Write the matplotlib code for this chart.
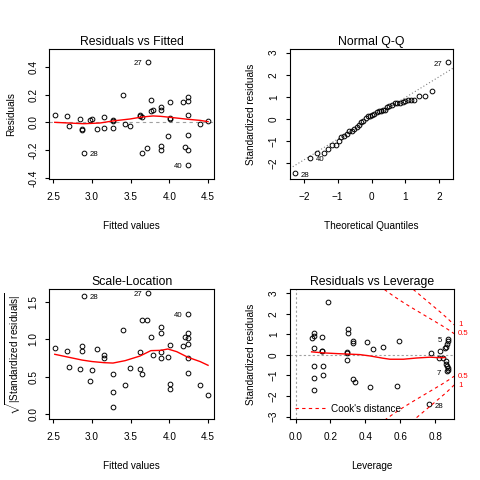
import numpy as np
import matplotlib
matplotlib.use("Agg")
import matplotlib.pyplot as plt
import matplotlib.transforms as mtrans

plt.rcParams['font.family'] = ['Liberation Sans', 'DejaVu Sans']
plt.rcParams['mathtext.fontset'] = 'custom'
plt.rcParams['mathtext.rm'] = 'Liberation Sans'

# Residuals vs Fitted
rvf_fitted = [2.517, 2.677, 2.70, 2.845, 2.87, 2.87, 2.897, 2.974, 3.0, 3.065, 3.155, 3.155,
              3.27, 3.27, 3.27, 3.40, 3.427, 3.49, 3.616, 3.616, 3.64, 3.64, 3.71, 3.72,
              3.76, 3.76, 3.79, 3.89, 3.89, 3.89, 3.89, 3.98, 4.01, 4.01, 4.01, 4.177,
              4.20, 4.24, 4.24, 4.24, 4.24, 4.24, 4.24, 4.397, 4.50]
rvf_resid = [0.055, 0.046, -0.024, 0.024, -0.046, -0.052, -0.218, 0.017, 0.024, -0.046, 0.041, -0.038,
             0.019, 0.010, -0.038, 0.199, -0.010, -0.024, 0.055, 0.048, 0.041, -0.218, -0.182, 0.436,
             0.160, 0.084, 0.091, 0.113, 0.091, -0.172, -0.196, -0.096, 0.148, 0.034, 0.024, 0.148,
             -0.175, 0.184, 0.156, 0.055, -0.089, -0.196, -0.304, -0.010, 0.012]
rvf_smooth_x = [2.517, 2.888, 3.10, 3.27, 3.49, 3.64, 3.79, 3.89, 4.01, 4.24, 4.397, 4.50]
rvf_smooth_y = [0.0, -0.010, -0.005, 0.010, 0.024, 0.038, 0.046, 0.043, 0.036, 0.022, 0.014, 0.005]
rvf_ids = [("27", 3.72, 0.436, "left"), ("28", 2.897, -0.218, "right"), ("40", 4.24, -0.304, "left")]

# Normal Q-Q
qq_theor = [-2.27, -1.82, -1.60, -1.41, -1.28, -1.16, -1.05, -0.96, -0.89, -0.82, -0.72, -0.67,
            -0.58, -0.52, -0.44, -0.38, -0.31, -0.25, -0.17, -0.10, -0.05, 0.01, 0.07, 0.15,
            0.22, 0.29, 0.34, 0.40, 0.46, 0.52, 0.60, 0.68, 0.75, 0.84, 0.92, 0.99,
            1.07, 1.16, 1.25, 1.40, 1.57, 1.80, 2.25]
qq_std = [-2.46, -1.74, -1.52, -1.52, -1.34, -1.16, -1.16, -1.00, -0.83, -0.77, -0.69, -0.53,
          -0.53, -0.44, -0.38, -0.29, -0.15, -0.11, 0.03, 0.14, 0.14, 0.17, 0.23, 0.32,
          0.38, 0.38, 0.41, 0.41, 0.53, 0.59, 0.65, 0.71, 0.71, 0.74, 0.77, 0.83,
          0.84, 0.87, 0.87, 1.05, 1.05, 1.28, 2.57]
qq_line_intercept = 0.03
qq_line_slope = 0.94
qq_ids = [("27", 2.25, 2.57, "left"), ("28", -2.27, -2.46, "right"), ("40", -1.82, -1.74, "right")]

# Scale-Location
sl_fitted = [2.517, 2.677, 2.70, 2.845, 2.87, 2.87, 2.897, 2.974, 3.0, 3.065, 3.155, 3.155,
             3.27, 3.27, 3.27, 3.40, 3.427, 3.49, 3.616, 3.616, 3.64, 3.64, 3.71, 3.72,
             3.76, 3.79, 3.89, 3.89, 3.89, 3.89, 3.98, 4.01, 4.01, 4.01, 4.177, 4.20,
             4.24, 4.24, 4.24, 4.24, 4.24, 4.24, 4.397, 4.50]
sl_value = [0.886, 0.846, 0.632, 0.605, 0.903, 0.846, 1.58, 0.445, 0.592, 0.872, 0.792, 0.752,
            0.538, 0.298, 0.098, 1.126, 0.392, 0.619, 0.832, 0.605, 1.26, 0.538, 1.26, 1.62,
            1.03, 0.792, 1.166, 1.086, 0.832, 0.752, 0.765, 0.926, 0.405, 0.338, 0.912, 1.03,
            1.34, 1.086, 1.02, 0.939, 0.752, 0.552, 0.392, 0.258]
sl_smooth_x = [2.517, 2.70, 2.87, 3.0, 3.155, 3.27, 3.427, 3.62, 3.76, 3.89, 3.98, 4.095, 4.24, 4.397, 4.50]
sl_smooth_y = [0.797, 0.757, 0.72, 0.70, 0.685, 0.68, 0.712, 0.774, 0.846, 0.85, 0.868, 0.832, 0.757, 0.70, 0.65]
sl_ids = [("28", 2.897, 1.58, "right"), ("27", 3.72, 1.62, "left"), ("40", 4.24, 1.34, "left")]

# Residuals vs Leverage
lev_h = [0.092, 0.103, 0.103, 0.103, 0.103, 0.103, 0.103, 0.149, 0.149, 0.149, 0.160, 0.160,
         0.183, 0.294, 0.294, 0.294, 0.300, 0.300, 0.328, 0.328, 0.328, 0.340, 0.407, 0.424,
         0.443, 0.498, 0.578, 0.592, 0.762, 0.773, 0.825, 0.819, 0.842, 0.853, 0.859, 0.865,
         0.871, 0.871, 0.859, 0.859, 0.865, 0.871, 0.871, 0.865]
lev_std = [0.84, 0.92, 1.05, 0.34, -0.52, -1.10, -1.73, 0.89, 0.21, 0.18, -0.52, -1.00,
           2.59, 0.13, 0.10, -0.23, 1.28, 1.09, 0.68, 0.60, -1.15, -1.30, 0.63, -1.54,
           0.31, 0.40, -1.49, 0.68, -2.40, 0.11, 0.19, -0.13, -0.13, 0.33, 0.39, 0.55,
           0.68, 0.78, -0.32, -0.42, -0.55, -0.65, -0.74, -0.78]
lev_smooth_x = [0.092, 0.158, 0.235, 0.368, 0.426, 0.50, 0.54, 0.617, 0.693, 0.77, 0.81, 0.855]
lev_smooth_y = [0.15, 0.10, 0.065, 0.016, -0.05, -0.16, -0.21, -0.21, -0.15, -0.11, -0.13, -0.13]
lev_ids = [("5", 0.871, 0.78, "left"), ("7", 0.865, -0.78, "left"), ("28", 0.762, -2.40, "right")]
n_params = 21
cook_levels = [0.5, 1.0]

TICK = 7.2
LAB = 7.2
ID = 5.6

fig = plt.figure(figsize=(4.8, 4.8), dpi=100)
ax1 = fig.add_axes([0.103, 0.628, 0.343, 0.269])
ax2 = fig.add_axes([0.604, 0.628, 0.340, 0.269])
ax3 = fig.add_axes([0.103, 0.128, 0.343, 0.269])
ax4 = fig.add_axes([0.604, 0.128, 0.342, 0.269])


def style(ax, title, xlabel, ylabel, ypad=9):
    ax.set_title(title, fontsize=8.8, pad=3)
    ax.set_xlabel(xlabel, fontsize=LAB, labelpad=13)
    ax.set_ylabel(ylabel, fontsize=LAB, labelpad=ypad)
    ax.tick_params(direction='out', length=3, width=0.8, labelsize=TICK, pad=7)
    ax.tick_params(axis='y', pad=5)
    for lab in ax.get_yticklabels():
        lab.set_rotation(90)
        lab.set_va('center')
    for s in ax.spines.values():
        s.set_linewidth(0.8)


def pts(ax, x, y):
    ax.plot(x, y, 'o', ms=3.4, mfc='none', mec='black', mew=0.7, ls='none')


def ids(ax, items):
    for txt, x, y, side in items:
        off = -4 if side == "left" else 4
        ax.annotate(txt, (x, y), xytext=(off, -1.5), textcoords='offset points',
                    ha='right' if side == "left" else 'left', va='center', fontsize=ID)


# panel 1
ax1.axhline(0, color='#a0a0a0', ls=(0, (3, 3)), lw=0.8)
pts(ax1, rvf_fitted, rvf_resid)
ax1.plot(rvf_smooth_x, rvf_smooth_y, color='red', lw=1)
ids(ax1, rvf_ids)
ax1.set_xlim(2.448, 4.578)
ax1.set_ylim(-0.405, 0.525)
ax1.set_xticks([2.5, 3.0, 3.5, 4.0, 4.5])
ax1.set_yticks([-0.4, -0.2, 0.0, 0.2, 0.4])
ax1.set_yticklabels(["-0.4", "-0.2", "0.0", "0.2", "0.4"])
style(ax1, "Residuals vs Fitted", "Fitted values", "Residuals")

# panel 2
ax2.axline((0, qq_line_intercept), slope=qq_line_slope, color='gray', ls=(0, (1, 2)), lw=0.8)
pts(ax2, qq_theor, qq_std)
ids(ax2, qq_ids)
ax2.set_xlim(-2.41, 2.41)
ax2.set_ylim(-2.69, 3.14)
ax2.set_xticks([-2, -1, 0, 1, 2])
ax2.set_yticks([-2, -1, 0, 1, 2, 3])
style(ax2, "Normal Q-Q", "Theoretical Quantiles", "Standardized residuals")

# panel 3
pts(ax3, sl_fitted, sl_value)
ax3.plot(sl_smooth_x, sl_smooth_y, color='red', lw=1)
ids(ax3, sl_ids)
ax3.set_xlim(2.448, 4.578)
ax3.set_ylim(-0.062, 1.664)
ax3.set_xticks([2.5, 3.0, 3.5, 4.0, 4.5])
ax3.set_yticks([0.0, 0.5, 1.0, 1.5])
style(ax3, "Scale-Location", "Fitted values",
      r'$\sqrt{|\mathrm{Standardized\ residuals}|}$', ypad=4)

# panel 4
xl = (-0.032, 0.907)
ax4.axhline(0, color='#a0a0a0', ls=(0, (2, 2)), lw=0.8)
ax4.axvline(0, color='#a0a0a0', ls=(0, (2, 2)), lw=0.8)
pts(ax4, lev_h, lev_std)
ax4.plot(lev_smooth_x, lev_smooth_y, color='red', lw=1)
hh = np.linspace(0.01, xl[1], 200)
tr = mtrans.blended_transform_factory(ax4.transAxes, ax4.transData)
for i, lvl in enumerate(cook_levels):
    cy = np.sqrt(lvl * n_params * (1 - hh) / hh)
    ax4.plot(hh, cy, color='red', ls=(0, (3, 3)), lw=0.8,
             label="Cook's distance" if i == 0 else None)
    ax4.plot(hh, -cy, color='red', ls=(0, (3, 3)), lw=0.8)
    yl = np.sqrt(lvl * n_params * (1 - xl[1]) / xl[1])
    for s in (1, -1):
        ax4.text(1.025, s * yl, "%g" % lvl, transform=tr, color='red',
                 fontsize=ID, ha='left', va='center', clip_on=False)
ids(ax4, lev_ids)
ax4.set_xlim(*xl)
ax4.set_ylim(-3.10, 3.19)
ax4.set_xticks([0.0, 0.2, 0.4, 0.6, 0.8])
ax4.set_yticks([-3, -2, -1, 0, 1, 2, 3])
ax4.legend(loc='lower left', frameon=False, fontsize=LAB, handlelength=3.2,
           handletextpad=0.4, borderaxespad=0.2, borderpad=0.3)
style(ax4, "Residuals vs Leverage", "Leverage", "Standardized residuals")

fig.savefig("out.png", dpi=100)
